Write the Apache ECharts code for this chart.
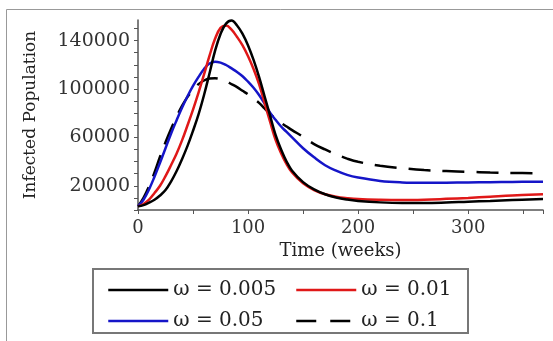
<!DOCTYPE html>
<html><head><meta charset="utf-8">
<script src="https://cdn.jsdelivr.net/npm/echarts@6/dist/echarts.min.js"></script>
<style>html,body{margin:0;padding:0;background:#fff}#c{width:553px;height:341px}</style>
</head><body><div id="c"></div>
<script>
const weeks = [0,5,10,15,20,25,30,35,40,45,50,55,60,65,70,75,80,85,90,95,100,105,110,115,120,125,130,135,140,150,160,170,180,190,200,220,240,260,280,300,320,340,368];
const w0005 = [3000,4000,6000,8500,12000,16500,23500,32000,42000,53000,65500,79000,95000,113000,131500,145500,154000,156500,152500,145500,136000,124000,110000,94000,78000,62000,50000,40000,32500,23000,17000,13000,10300,8600,7500,6300,5800,5800,6200,6900,7500,8200,9000];
const w001 = [3000,5000,8500,14000,20000,28000,37000,46500,57500,70000,83000,97000,112000,127500,141500,150500,152500,149000,143000,136000,127000,116500,104000,88500,73000,58000,47000,38000,31000,22000,16500,13000,11000,9800,9000,8400,8200,8500,9200,10000,11000,12000,13000];
const w005 = [3000,8500,17000,27500,39000,51000,63000,74000,84500,94000,102500,110000,116500,121000,122600,121800,119800,117000,114000,110500,106000,101000,95000,88000,80500,74500,69000,64500,60000,51000,43500,37000,32500,29000,26800,24000,22800,22500,22600,22800,23000,23200,23300];
const w01 = [3000,10000,19500,31000,44000,56000,67000,77000,86000,93500,99500,104000,107000,108600,108900,108200,106500,104000,101500,98500,95500,92000,88500,84000,79500,75500,72000,69000,66000,60500,54500,50000,46000,42500,39800,36500,34500,33000,32200,31600,31000,30600,30300];
const seriesNames = ['ω = 0.005','ω = 0.01','ω = 0.05','ω = 0.1'];
const xTickLabels = [0,100,200,300];
const yTickLabels = [20000,60000,100000,140000];

const colors = ['#000000','#e01818','#1515c8','#000000'];
const dataSets = [w0005,w001,w005,w01];
const pair = arr => weeks.map((t,i)=>[t,arr[i]]);
const FONT = 'DejaVu Serif';

const series = dataSets.map((d,i)=>({
  name: seriesNames[i], type:'line', data: pair(d), smooth:0.4, symbol:'none',
  lineStyle:{color:colors[i], width:2.5, type: i===3 ? [22,12] : 'solid'},
  itemStyle:{color:colors[i]}, z: [4,3,2,1][i]
}));

const legendPos = [[102,275],[290,275],[102,306],[290,306]];
const legends = seriesNames.map((n,i)=>({
  left:legendPos[i][0], top:legendPos[i][1], itemWidth:60, itemHeight:20,
  selectedMode:false,
  itemStyle:{opacity:0},
  textStyle:{fontFamily:FONT, fontSize:20, color:'#222'},
  data:[{name:n, lineStyle: i===3 ? {type:[20,14], width:2.5} : {width:2.5}}]
}));

const chart = echarts.init(document.getElementById('c'));
chart.setOption({
  animation:false,
  backgroundColor:'#fff',
  grid:{left:138, right:10, top:20, bottom:131},
  xAxis:{type:'value', min:0, max:368, interval:50,
    axisLine:{lineStyle:{color:'#555', width:1.5}},
    axisTick:{length:4, lineStyle:{color:'#555'}},
    splitLine:{show:false},
    axisLabel:{fontFamily:FONT, fontSize:18, color:'#333', margin:9,
      formatter:v=>xTickLabels.includes(v)?String(v):''},
    name:'Time (weeks)', nameLocation:'middle', nameGap:26,
    nameTextStyle:{fontFamily:FONT, fontSize:18, color:'#222'}},
  yAxis:{type:'value', min:0, max:157000, interval:10000,
    axisLine:{show:true, lineStyle:{color:'#555', width:1.5}},
    axisTick:{show:true, length:4, lineStyle:{color:'#555'}},
    splitLine:{show:false},
    axisLabel:{fontFamily:FONT, fontSize:19, color:'#333', margin:8, showMaxLabel:false,
      formatter:v=>yTickLabels.includes(v)?String(v):''},
    name:'Infected Population', nameLocation:'middle', nameGap:99,
    nameTextStyle:{fontFamily:FONT, fontSize:17, color:'#222'}},
  legend: legends,
  graphic:[
    {type:'rect', shape:{x:6.5,y:9.5,width:600,height:400}, style:{fill:'none', stroke:'#999', lineWidth:1}, silent:true},
    {type:'rect', shape:{x:93,y:269,width:375,height:64}, style:{fill:'none', stroke:'#777', lineWidth:2}, silent:true}
  ],
  series: series
});
</script></body></html>
